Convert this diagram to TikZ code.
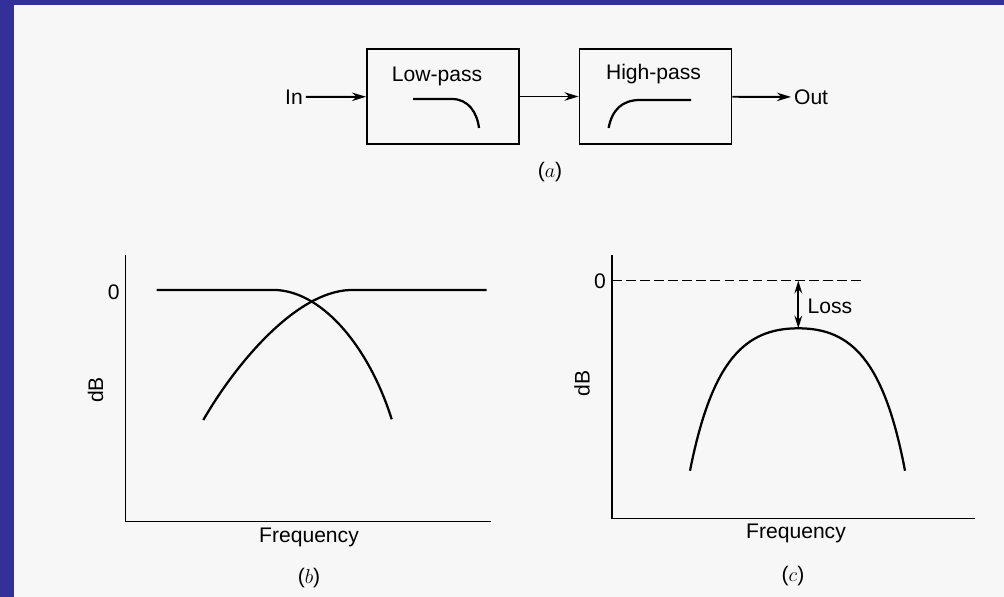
\documentclass[tikz,border=0pt]{standalone}
\usepackage{fontspec}
\setmainfont{Liberation Sans}
\usetikzlibrary{arrows.meta,positioning}
\definecolor{frameblue}{RGB}{51,49,153}
\definecolor{paper}{RGB}{247,247,247}

\begin{document}
\begin{tikzpicture}[x=0.025cm,y=-0.025cm,font=\fontsize{15}{18}\selectfont,
  filt/.style={draw,line width=1.3pt,minimum width=3.8cm,minimum height=2.375cm,inner sep=0pt},
  sig/.style={line width=1.4pt,-{Stealth[length=10pt,width=6pt]}},
  curve/.style={line width=1.6pt},
  axis/.style={line width=1.1pt}]
  % paper with the blue frame on the left and top
  \fill[paper] (0,0) rectangle (1004,597);
  \fill[frameblue] (0,0) rectangle (14,597);
  \fill[frameblue] (0,0) rectangle (1004,5);
  \useasboundingbox (0,0) rectangle (1004,597);

  % (a) low-pass and high-pass in series
  \node[inner sep=2pt] (in) at (294,97) {In};
  \node[filt] (lp) at (443,96.5) {};
  \node[filt] (hp) at (655.5,96.5) {};
  \node[anchor=west,inner sep=2pt] (out) at (791,97) {Out};
  \node (lptxt) at (437,76) {Low-pass};
  \node (hptxt) at (653.5,74.3) {High-pass};
  \draw[sig] (in) -- (lp);
  \draw[sig] (lp) -- (hp);
  \draw[sig] (hp) -- (out);
  \draw[curve] (413,99) -- (452,99) .. controls (468,99) and (477,112) .. (479,128);
  \draw[curve] (608.6,128) .. controls (612,110) and (622,100) .. (640,100) -- (691,100);
  \node (capa) at (550,172.5) {($a$)};

  % axes of (b) and (c)
  \foreach \ax/\ay/\ex/\zy/\dy in {125.7/521.7/491/292/390, 612/518.3/975/281.7/383.3}{
    \draw[axis] (\ax,255) -- (\ax,\ay) -- (\ex,\ay);
    \node at ({\ax-12},\zy) {0};
    \node[rotate=90] at ({\ax-30},\dy) {dB};
  }

  % (b) both responses
  \draw[curve] (156.7,290) -- (276.7,290) .. controls (325,293) and (370,350) .. (391.7,419.3);
  \draw[curve] (203.3,420) .. controls (235,365) and (295,292) .. (350,290) -- (486.7,290);
  \node (freqb) at (309,537) {Frequency};
  \node (capb) at (309,578) {($b$)};

  % (c) combined response
  \coordinate (zero) at (798.3,280.7);
  \coordinate (peak) at (798.3,328.3);
  \draw[axis,dash pattern=on 7pt off 3pt] (612,280.7) -- (865,280.7);
  \draw[curve] (690,470.7) .. controls (712,360) and (745,328.3) .. (peak)
    .. controls (851,328.3) and (884,360) .. (905,470.7);
  \draw[line width=1.2pt,{Stealth[length=9pt,width=5.5pt]}-{Stealth[length=9pt,width=5.5pt]}] (zero) -- (peak);
  \node[anchor=west,inner sep=1pt] (loss) at (806,306.7) {Loss};
  \node (freqc) at (796,533) {Frequency};
  \node (capc) at (793,576) {($c$)};
\end{tikzpicture}
\end{document}
